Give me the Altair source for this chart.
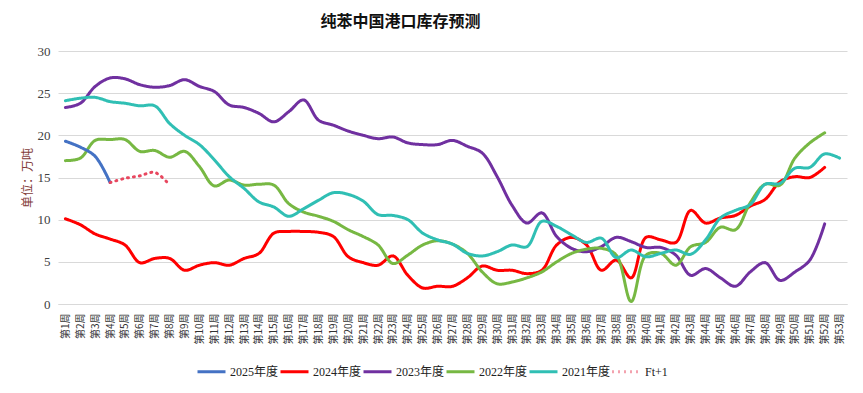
import altair as alt
import pandas as pd

weeks = [f"第{i}周" for i in range(1, 54)]
series_names = ["2025年度", "2024年度", "2023年度", "2022年度", "2021年度", "Ft+1"]
series_colors = ["#4472C4", "#FF0000", "#7030A0", "#77B843", "#30BFB4", "#E8475F"]

# 2025: weeks 1-4
y2025 = [19.3, 18.6, 17.5, 14.4]
# Ft+1 forecast: weeks 4-8
ft1 = [14.4, 14.9, 15.2, 15.6, 14.1]
# 2024: weeks 1-52
y2024 = [10.1, 9.4, 8.3, 7.7, 7.0, 4.9, 5.4, 5.4, 4.0, 4.6,
         4.9, 4.6, 5.4, 6.0, 8.4, 8.6, 8.6, 8.5, 8.0, 5.6,
         4.9, 4.6, 5.7, 3.4, 1.9, 2.1, 2.1, 3.1, 4.5, 4.0,
         4.0, 3.6, 4.0, 7.0, 7.9, 7.0, 4.0, 5.2, 3.1, 7.9,
         7.6, 7.3, 11.1, 9.6, 10.2, 10.5, 11.6, 12.4, 14.5, 15.1,
         15.0, 16.2]
# 2023: weeks 1-52
y2023 = [23.3, 23.8, 25.8, 26.8, 26.7, 26.0, 25.7, 25.9, 26.6, 25.8,
         25.2, 23.6, 23.3, 22.6, 21.6, 22.8, 24.2, 21.8, 21.2, 20.5,
         20.0, 19.6, 19.8, 19.1, 18.9, 18.9, 19.4, 18.7, 17.9, 15.1,
         11.7, 9.6, 10.8, 8.0, 6.6, 6.2, 6.8, 7.9, 7.4, 6.7,
         6.7, 5.8, 3.4, 4.2, 3.1, 2.1, 3.8, 4.9, 2.8, 3.8,
         5.2, 9.5]
# 2022: weeks 1-52
y2022 = [17.0, 17.3, 19.4, 19.5, 19.5, 18.1, 18.2, 17.4, 18.1, 16.3,
         14.0, 14.7, 14.1, 14.2, 14.1, 11.9, 10.9, 10.4, 9.8, 8.8,
         8.0, 7.0, 4.8, 5.8, 7.0, 7.5, 7.1, 6.0, 3.8, 2.4,
         2.6, 3.1, 3.8, 5.0, 6.0, 6.5, 6.6, 5.8, 0.3, 5.8,
         6.0, 4.6, 6.8, 7.3, 9.1, 8.8, 12.0, 14.2, 14.1, 17.3,
         19.1, 20.3]
# 2021: weeks 1-53
y2021 = [24.1, 24.4, 24.5, 24.0, 23.8, 23.5, 23.5, 21.4, 20.0, 18.9,
         17.1, 15.1, 13.7, 12.1, 11.5, 10.4, 11.3, 12.3, 13.2, 13.0,
         12.2, 10.6, 10.5, 10.0, 8.4, 7.6, 7.1, 6.0, 5.7, 6.2,
         7.0, 6.8, 9.8, 9.2, 8.2, 7.3, 7.8, 5.5, 6.4, 5.6,
         6.0, 6.4, 5.9, 7.6, 10.2, 11.1, 11.8, 14.2, 14.3, 16.1,
         16.2, 17.8, 17.3]

rows = []


def add(name, start_week, values):
    for i, v in enumerate(values):
        rows.append({"week": weeks[start_week - 1 + i], "series": name, "value": v})


add("2024年度", 1, y2024)
add("2023年度", 1, y2023)
add("2022年度", 1, y2022)
add("2021年度", 1, y2021)
add("2025年度", 1, y2025)
add("Ft+1", 4, ft1)

df = pd.DataFrame(rows)

legend_cfg = alt.Legend(
    title=None, orient="none", direction="horizontal",
    legendX=138, legendY=305,
    symbolType="stroke", symbolSize=784, symbolStrokeWidth=3,
    labelFont="Liberation Serif, Noto Sans CJK SC", labelFontSize=12,
    labelColor="#222222", labelOffset=3, columnPadding=-6,
)

chart = alt.Chart(df).mark_line(
    strokeWidth=3, interpolate="catmull-rom", strokeCap="round"
).encode(
    x=alt.X("week:N", sort=weeks, scale=alt.Scale(domain=weeks),
            axis=alt.Axis(title=None, labelAngle=270, labelFontSize=10,
                          labelFont="Noto Sans CJK SC", labelColor="#333333",
                          ticks=False, domain=True, domainColor="#d9d9d9",
                          labelPadding=9, grid=False, labelOverlap=False)),
    y=alt.Y("value:Q", scale=alt.Scale(domain=[0, 30]),
            axis=alt.Axis(values=[0, 5, 10, 15, 20, 25, 30], title="单位：万吨",
                          titleColor="#843c39", titleFont="Noto Sans CJK SC",
                          titleFontSize=12, titleFontWeight="normal", titlePadding=3,
                          labelFont="Liberation Serif", labelFontSize=13,
                          labelColor="#404040", domain=False, ticks=False,
                          gridColor="#d9d9d9", labelPadding=8)),
    color=alt.Color("series:N", scale=alt.Scale(domain=series_names, range=series_colors),
                    legend=legend_cfg),
    strokeDash=alt.StrokeDash("series:N",
                              scale=alt.Scale(domain=series_names,
                                              range=[[1, 0]] * 5 + [[1, 5]]),
                              legend=legend_cfg),
).properties(
    width=789, height=253,
    title=alt.TitleParams("纯苯中国港口库存预测", font="Noto Sans CJK SC", fontSize=16,
                          fontWeight="bold", color="#111111", anchor="middle",
                          dx=-52, dy=4, offset=19),
    padding={"left": 50, "top": 43, "right": 8, "bottom": 81},
    autosize=alt.AutoSizeParams(type="none"),
    background="white",
).configure_view(stroke=None)

chart.save("out.html", embed_options={"renderer": "svg", "actions": False})
